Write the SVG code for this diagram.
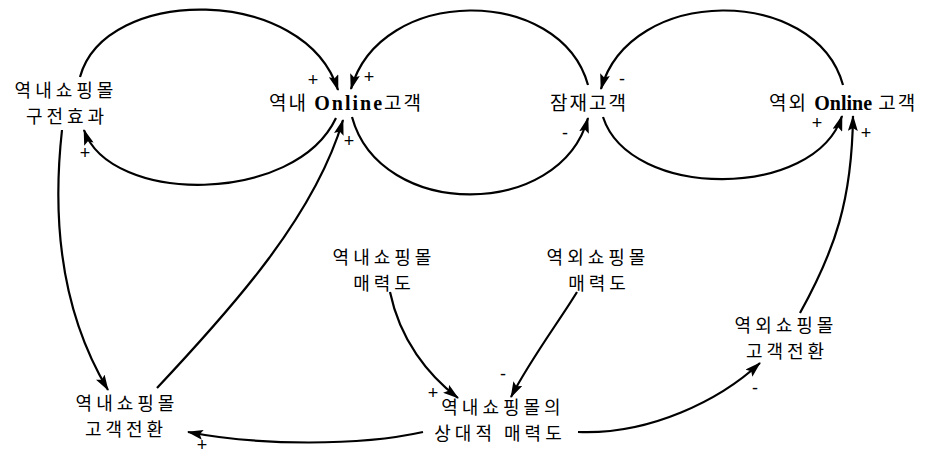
<svg xmlns="http://www.w3.org/2000/svg" width="932" height="456" viewBox="0 0 932 456">
<style>
.k{font-family:"Noto Sans CJK KR","Liberation Sans",sans-serif;font-size:18px;letter-spacing:4px;fill:#000;text-anchor:middle}
.ks{font-family:"Noto Sans CJK KR","Liberation Sans",sans-serif;font-size:19px;letter-spacing:2px;fill:#000}
.en{font-family:"Liberation Serif",serif;font-weight:bold;font-size:20px}
.l{fill:none;stroke:#000;stroke-width:2.2;marker-end:url(#ah)}
.s{font-family:"Liberation Sans",sans-serif;font-size:18px;fill:#000;text-anchor:middle;dominant-baseline:central}
</style>
<defs>
<marker id="ah" markerUnits="userSpaceOnUse" markerWidth="16" markerHeight="10" refX="15" refY="5" orient="auto">
<path d="M0,0 L16,5 L0,10 L3,5 z" fill="#000"/>
</marker>
</defs>
<rect width="932" height="456" fill="#fff"/>
<g id="n_wom">
<text class="k"><tspan x="66" y="97">역내쇼핑몰</tspan><tspan x="67" y="123">구전효과</tspan></text>
</g>
<g id="n_dom_online">
<text class="ks" x="269" y="110">역내 <tspan class="en" letter-spacing="2">Online</tspan>고객</text>
</g>
<g id="n_potential">
<text class="ks" x="550" y="110">잠재고객</text>
</g>
<g id="n_for_online">
<text class="ks" x="769" y="110">역외 <tspan class="en" letter-spacing="0">Online</tspan> 고객</text>
</g>
<g id="n_dom_attr">
<text class="k"><tspan x="384" y="264">역내쇼핑몰</tspan><tspan x="384" y="290">매력도</tspan></text>
</g>
<g id="n_for_attr">
<text class="k"><tspan x="598" y="264">역외쇼핑몰</tspan><tspan x="599" y="290">매력도</tspan></text>
</g>
<g id="n_rel_attr">
<text class="k"><tspan x="503" y="414">역내쇼핑몰의</tspan><tspan x="500" y="440">상대적 매력도</tspan></text>
</g>
<g id="n_for_conv">
<text class="k"><tspan x="786" y="332">역외쇼핑몰</tspan><tspan x="787" y="358">고객전환</tspan></text>
</g>
<g id="n_dom_conv">
<text class="k"><tspan x="127" y="410">역내쇼핑몰</tspan><tspan x="126" y="436">고객전환</tspan></text>
</g>
<g id="connectors">
<path class="l" d="M80,77 C105,-15 305,-15 338,90"/>
<text class="s" x="313" y="80">+</text>
<path class="l" d="M336,118 C295,205 110,205 84,130"/>
<text class="s" x="85" y="153">+</text>
<path class="l" d="M588,85 C560,-15 380,-15 351,89"/>
<text class="s" x="369" y="77">+</text>
<path class="l" d="M352,117 C380,220 560,220 588,118"/>
<text class="s" x="565" y="133">-</text>
<path class="l" d="M843,85 C815,-15 630,-15 601,89"/>
<text class="s" x="622" y="79">-</text>
<path class="l" d="M603,117 C630,200 815,200 842,116"/>
<text class="s" x="817" y="123">+</text>
<path class="l" d="M800,313 C835,250 852,200 853,116"/>
<text class="s" x="866" y="133">+</text>
<path class="l" d="M62,130 C52,220 60,310 108,390"/>
<path class="l" d="M157,388 C235,305 315,215 343,120"/>
<text class="s" x="349" y="141">+</text>
<path class="l" d="M390,292 C400,340 428,375 458,398"/>
<text class="s" x="433" y="393">+</text>
<path class="l" d="M577,292 C560,320 530,360 511,397"/>
<text class="s" x="503" y="374">-</text>
<path class="l" d="M423,432 C360,446 260,446 188,432"/>
<text class="s" x="202" y="445">+</text>
<path class="l" d="M578,432 C650,435 720,400 760,363"/>
<text class="s" x="755" y="388">-</text>
</g>
</svg>
